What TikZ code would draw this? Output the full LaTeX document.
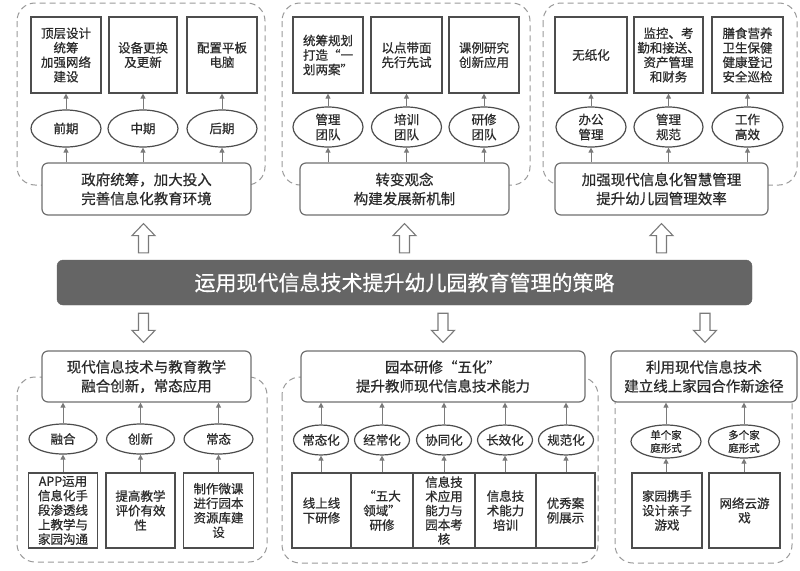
\documentclass[tikz,border=0pt]{standalone}
\usepackage{fontspec}
\setmainfont{Noto Sans CJK SC}[FakeBold=0.6]
\usetikzlibrary{shapes.geometric,arrows.meta,calc}
\definecolor{boxc}{HTML}{4D4D4D}
\definecolor{mainc}{HTML}{707070}
\definecolor{contc}{HTML}{9A9A9A}
\definecolor{arrc}{HTML}{7A7A7A}
\definecolor{barc}{HTML}{656565}
\definecolor{txt}{HTML}{2B2B2B}
\newcommand\fs[2]{\fontsize{#1pt}{#2pt}\selectfont}
\newcommand\blockup[2]{\draw[blockarr] let \p1=(#1), \p2=(#2) in (\x2-5pt,\y1) -- (\x2-5pt,\y2-12pt) -- (\x2-11.5pt,\y2-12pt) -- (\x2,\y2) -- (\x2+11.5pt,\y2-12pt) -- (\x2+5pt,\y2-12pt) -- (\x2+5pt,\y1) -- cycle;}
\newcommand\blockdown[2]{\draw[blockarr] let \p1=(#1), \p2=(#2) in (\x2-5pt,\y1) -- (\x2-5pt,\y2+12pt) -- (\x2-11.5pt,\y2+12pt) -- (\x2,\y2) -- (\x2+11.5pt,\y2+12pt) -- (\x2+5pt,\y2+12pt) -- (\x2+5pt,\y1) -- cycle;}
\tikzset{
  box/.style={draw=boxc, line width=1.2pt, fill=white, inner sep=1pt, align=center, text=txt, font=\fs{12.5}{14.5}},
  ell/.style={ellipse, draw=boxc, line width=1.2pt, fill=white, inner sep=0pt, align=center, text=txt, font=\fs{12.5}{15}},
  mainbox/.style={rounded corners=6pt, draw=mainc, line width=1.2pt, fill=white, align=center, text=txt, font=\fs{14.5}{19}},
  cont/.style={draw=contc, dash pattern=on 6pt off 4pt, rounded corners=18pt, line width=1pt},
  conn/.style={draw=arrc, line width=1pt, -{Triangle[length=5pt,width=5pt]}},
  blockarr/.style={draw=arrc, line width=1.1pt, fill=white, line join=miter},
  barbox/.style={rounded corners=6pt, fill=barc, draw=barc, text=white, font=\fs{21}{24}}
}
\begin{document}
\begin{tikzpicture}[x=1pt,y=-1pt]
\useasboundingbox[fill=white] (0,0) rectangle (800,570);

% ---------- containers ----------
\draw[cont] (17,3) rectangle (265,185);
\draw[cont] (282,3) rectangle (530,185);
\draw[cont] (543,3) rectangle (797,185);
\draw[cont] (17,377) rectangle (267,562);
\draw[cont] (282,377) rectangle (598,563);
\draw[cont] (615,380) rectangle (792,563);

% ---------- top-left ----------
\node[box, minimum width=70pt, minimum height=76pt] (a1) at (66,55) {顶层设计\\统筹\\加强网络\\建设};
\node[box, minimum width=68pt, minimum height=76pt] (a2) at (143,55) {设备更换\\及更新};
\node[box, minimum width=70pt, minimum height=76pt] (a3) at (222,55) {配置平板\\电脑};
\node[ell, minimum width=70pt, minimum height=37pt] (ae1) at (66,128.5) {前期};
\node[ell, minimum width=70pt, minimum height=37pt] (ae2) at (143,128.5) {中期};
\node[ell, minimum width=70pt, minimum height=37pt] (ae3) at (222,128.5) {后期};
\node[mainbox, minimum width=209pt, minimum height=52pt] (am) at (146.5,189) {政府统筹，加大投入\\完善信息化教育环境};
\foreach \i in {1,2,3}{
  \draw[conn] (ae\i.south |- am.north) -- (ae\i.south);
  \draw[conn] (ae\i.north) -- (ae\i.north |- a\i.south);
}

% ---------- top-middle ----------
\node[box, minimum width=70pt, minimum height=76pt, align=left] (b1) at (328,55) {统筹规划\\打造“一\\划两案”};
\node[box, minimum width=71pt, minimum height=76pt] (b2) at (406.5,55) {以点带面\\先行先试};
\node[box, minimum width=70pt, minimum height=76pt] (b3) at (484,55) {课例研究\\创新应用};
\node[ell, minimum width=70pt, minimum height=40pt] (be1) at (328,127) {管理\\团队};
\node[ell, minimum width=70pt, minimum height=40pt] (be2) at (406.5,127) {培训\\团队};
\node[ell, minimum width=70pt, minimum height=40pt] (be3) at (484,127) {研修\\团队};
\node[mainbox, minimum width=209pt, minimum height=52pt] (bm) at (404.5,189) {转变观念\\构建发展新机制};
\foreach \i in {1,2,3}{
  \draw[conn] (be\i.south |- bm.north) -- (be\i.south);
  \draw[conn] (be\i.north) -- (be\i.north |- b\i.south);
}

% ---------- top-right ----------
\node[box, minimum width=72pt, minimum height=76pt] (c1) at (591,55) {无纸化};
\node[box, minimum width=69pt, minimum height=76pt] (c2) at (668.5,55) {监控、考\\勤和接送、\\资产管理\\和财务};
\node[box, minimum width=71pt, minimum height=76pt] (c3) at (747.5,55) {膳食营养\\卫生保健\\健康登记\\安全巡检};
\node[ell, minimum width=70pt, minimum height=40pt] (ce1) at (591,127) {办公\\管理};
\node[ell, minimum width=69pt, minimum height=40pt] (ce2) at (668.5,127) {管理\\规范};
\node[ell, minimum width=71pt, minimum height=40pt] (ce3) at (747.5,127) {工作\\高效};
\node[mainbox, minimum width=213pt, minimum height=52pt] (cm) at (661.5,189) {加强现代信息化智慧管理\\提升幼儿园管理效率};
\foreach \i in {1,2,3}{
  \draw[conn] (ce\i.south |- cm.north) -- (ce\i.south);
  \draw[conn] (ce\i.north) -- (ce\i.north |- c\i.south);
}

% ---------- central bar ----------
\node[barbox, minimum width=695pt, minimum height=45pt] (bar) at (404.5,282.5) {运用现代信息技术提升幼儿园教育管理的策略};

% ---------- bottom-left ----------
\node[mainbox, minimum width=209pt, minimum height=51pt] (dm) at (146.5,376.5) {现代信息技术与教育教学\\融合创新，常态应用};
\node[ell, minimum width=68pt, minimum height=30pt] (de1) at (63,439) {融合};
\node[ell, minimum width=68pt, minimum height=30pt] (de2) at (140.5,439) {创新};
\node[ell, minimum width=69pt, minimum height=30pt] (de3) at (218.5,439) {常态};
\node[box, minimum width=69pt, minimum height=75pt] (d1) at (63,510.5) {APP运用\\信息化手\\段渗透线\\上教学与\\家园沟通};
\node[box, minimum width=69pt, minimum height=75pt] (d2) at (140.5,510.5) {提高教学\\评价有效\\性};
\node[box, minimum width=70pt, minimum height=75pt] (d3) at (218.5,510.5) {制作微课\\进行园本\\资源库建\\设};
\foreach \i in {1,2,3}{
  \draw[conn] (de\i.north) -- (de\i.north |- dm.south);
  \draw[conn] (de\i.south |- d\i.north) -- (de\i.south);
}

% ---------- bottom-middle ----------
\node[mainbox, minimum width=284pt, minimum height=51pt] (em) at (443,376.5) {园本研修“五化”\\提升教师现代信息技术能力};
\node[ell, minimum width=55pt, minimum height=30pt] (ee1) at (321,440) {常态化};
\node[ell, minimum width=55pt, minimum height=30pt] (ee2) at (382,440) {经常化};
\node[ell, minimum width=55pt, minimum height=30pt] (ee3) at (444,440) {协同化};
\node[ell, minimum width=55pt, minimum height=30pt] (ee4) at (505,440) {长效化};
\node[ell, minimum width=55pt, minimum height=30pt] (ee5) at (566,440) {规范化};
\node[box, minimum width=59pt, minimum height=75pt] (e1) at (321.5,510.5) {线上线\\下研修};
\node[box, minimum width=62pt, minimum height=75pt] (e2) at (382,510.5) {“五大\\领域”\\研修};
\node[box, minimum width=62pt, minimum height=75pt, inner sep=0pt, font=\fs{12.5}{14.2}] (e3) at (444,510.5) {信息技\\术应用\\能力与\\园本考\\核};
\node[box, minimum width=61pt, minimum height=75pt] (e4) at (505.5,510.5) {信息技\\术能力\\培训};
\node[box, minimum width=59pt, minimum height=75pt] (e5) at (565.5,510.5) {优秀案\\例展示};
\foreach \i in {1,...,5}{
  \draw[conn] (ee\i.north) -- (ee\i.north |- em.south);
  \draw[conn] (ee\i.south |- e\i.north) -- (ee\i.south);
}

% ---------- bottom-right ----------
\node[mainbox, minimum width=186pt, minimum height=51pt] (fm) at (704,376.5) {利用现代信息技术\\建立线上家园合作新途径};
\node[ell, minimum width=70pt, minimum height=33pt, font=\fs{10.5}{13}] (fe1) at (666,441.5) {单个家\\庭形式};
\node[ell, minimum width=71pt, minimum height=33pt, font=\fs{10.5}{13}] (fe2) at (744,441.5) {多个家\\庭形式};
\node[box, minimum width=70pt, minimum height=75pt] (f1) at (667,510.5) {家园携手\\设计亲子\\游戏};
\node[box, minimum width=71pt, minimum height=75pt] (f2) at (744.5,510.5) {网络云游\\戏};
\foreach \i in {1,2}{
  \draw[conn] (fe\i.north) -- (fe\i.north |- fm.south);
  \draw[conn] (fe\i.south |- f\i.north) -- (fe\i.south);
}

% ---------- block arrows ----------
\coordinate (u1a) at ($(bar.north -| am.south)+(-3,-7)$);
\coordinate (u1b) at ($(am.south)+(-3,8)$);
\coordinate (u2a) at ($(bar.north -| bm.south)+(0,-7)$);
\coordinate (u2b) at ($(bm.south)+(0,8)$);
\coordinate (u3a) at ($(bar.north -| cm.south)+(0,-7)$);
\coordinate (u3b) at ($(cm.south)+(0,8)$);
\blockup{u1a}{u1b}
\blockup{u2a}{u2b}
\blockup{u3a}{u3b}
\coordinate (d1a) at ($(bar.south -| dm.north)+(-3,8)$);
\coordinate (d1b) at ($(dm.north)+(-3,-8)$);
\coordinate (d2a) at ($(bar.south -| em.north)+(0,8)$);
\coordinate (d2b) at ($(em.north)+(0,-8)$);
\coordinate (d3a) at ($(bar.south -| fm.north)+(1,8)$);
\coordinate (d3b) at ($(fm.north)+(1,-8)$);
\blockdown{d1a}{d1b}
\blockdown{d2a}{d2b}
\blockdown{d3a}{d3b}
\end{tikzpicture}
\end{document}
